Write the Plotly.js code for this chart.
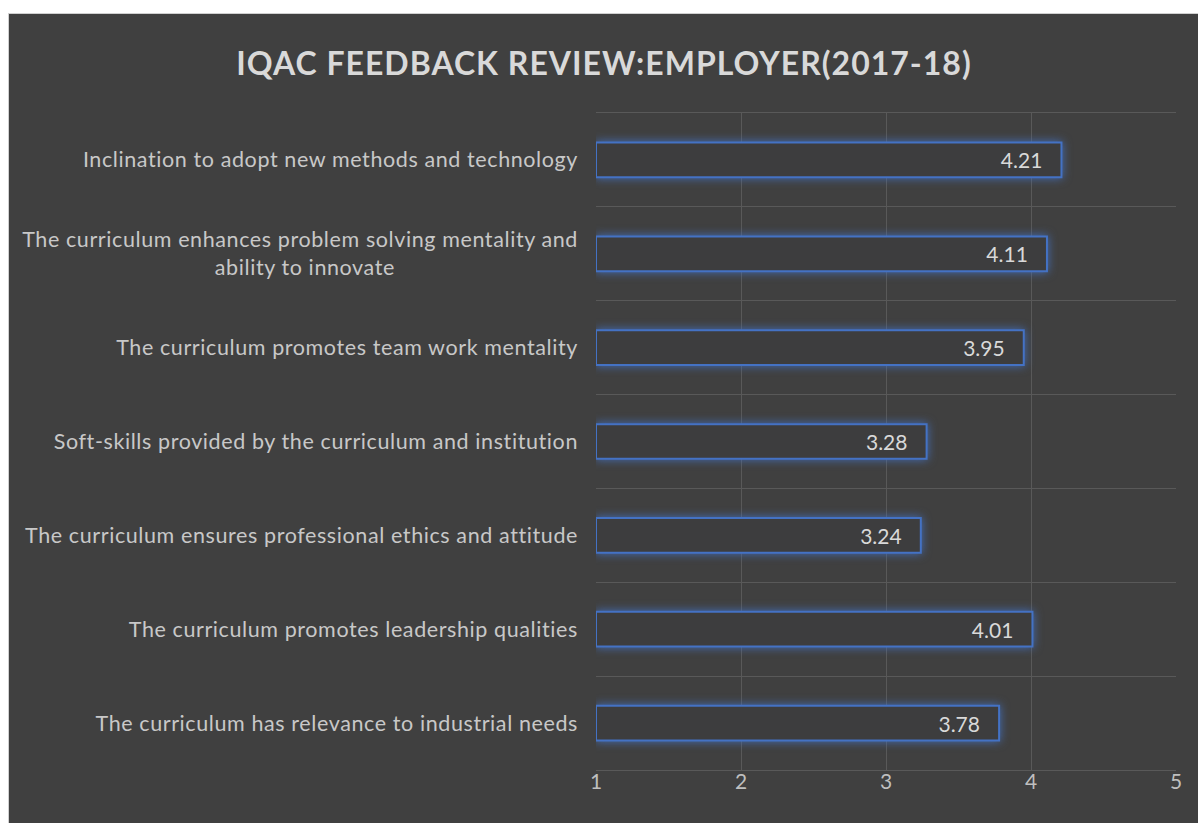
<!DOCTYPE html>
<html><head><meta charset="utf-8">
<script src="https://cdn.plot.ly/plotly-3.0.1.min.js"></script>
<style>
html,body{margin:0;padding:0;background:#ffffff;width:1198px;height:823px;overflow:hidden;}
#chart{position:absolute;left:8px;top:13px;width:1190px;height:810px;border-left:1px solid #d0d0d0;border-top:1px solid #d0d0d0;box-sizing:border-box;background:#404040;}
#chart .bars .point path{filter:drop-shadow(0 0 5px rgba(68,114,196,0.9));}
#chart .ytick text{letter-spacing:0.6px;}
#chart .gtitle{letter-spacing:1px;}
</style></head>
<body><div id="chart"></div>
<script>
var categories = [
  "The curriculum has relevance to industrial needs",
  "The curriculum promotes leadership qualities",
  "The curriculum ensures professional ethics and attitude",
  "Soft-skills provided by the curriculum and institution",
  "The curriculum promotes team work mentality",
  "The curriculum enhances problem solving mentality and<br>ability to innovate" + "\u00a0".repeat(30),
  "Inclination to adopt new methods and technology"
];
var values = [3.78, 4.01, 3.24, 3.28, 3.95, 4.11, 4.21];
var axisBase = 1;
var xTicks = [1, 2, 3, 4, 5];
var title = "IQAC FEEDBACK REVIEW:EMPLOYER(2017-18)";

var trace = {
  type: 'bar', orientation: 'h',
  y: categories,
  x: values.map(function(v){ return v - axisBase; }),
  base: axisBase,
  text: values.map(function(v){ return v.toFixed(2) + '\u00a0\u00a0\u00a0'; }),
  textposition: 'inside', insidetextanchor: 'end',
  textfont: {family: 'Lato', size: 21, color: '#d9d9d9'},
  marker: {color: '#3d3d3e', line: {color: '#4472c4', width: 2}},
  hoverinfo: 'none', cliponaxis: false
};
var layout = {
  width: 1190, height: 810,
  paper_bgcolor: '#404040', plot_bgcolor: '#404040',
  margin: {l: 587, r: 23, t: 99, b: 54},
  bargap: 0.63,
  showlegend: false,
  title: {text: '<b>' + title + '</b>', x: 0.5, xanchor: 'center', y: 0.939, yanchor: 'middle',
          font: {family: 'Lato', size: 32, color: '#d9d9d9'}},
  xaxis: {range: [1, 5], tickvals: xTicks, showgrid: true, gridcolor: '#595959', gridwidth: 1,
          zeroline: false, showline: true, linecolor: '#595959', mirror: true, ticks: '',
          tickfont: {family: 'Lato', size: 21, color: '#bfbfbf'}, ticklabelstandoff: -7},
  yaxis: {type: 'category', tickson: 'boundaries', showgrid: true, gridcolor: '#595959', gridwidth: 1,
          showline: false, ticks: '', ticklabelstandoff: 17,
          tickfont: {family: 'Lato', size: 21.5, color: '#c8c8c8'}},
  font: {family: 'Lato', color: '#d0d0d0'}
};
Plotly.newPlot('chart', [trace], layout, {staticPlot: true, displayModeBar: false});
</script></body></html>
